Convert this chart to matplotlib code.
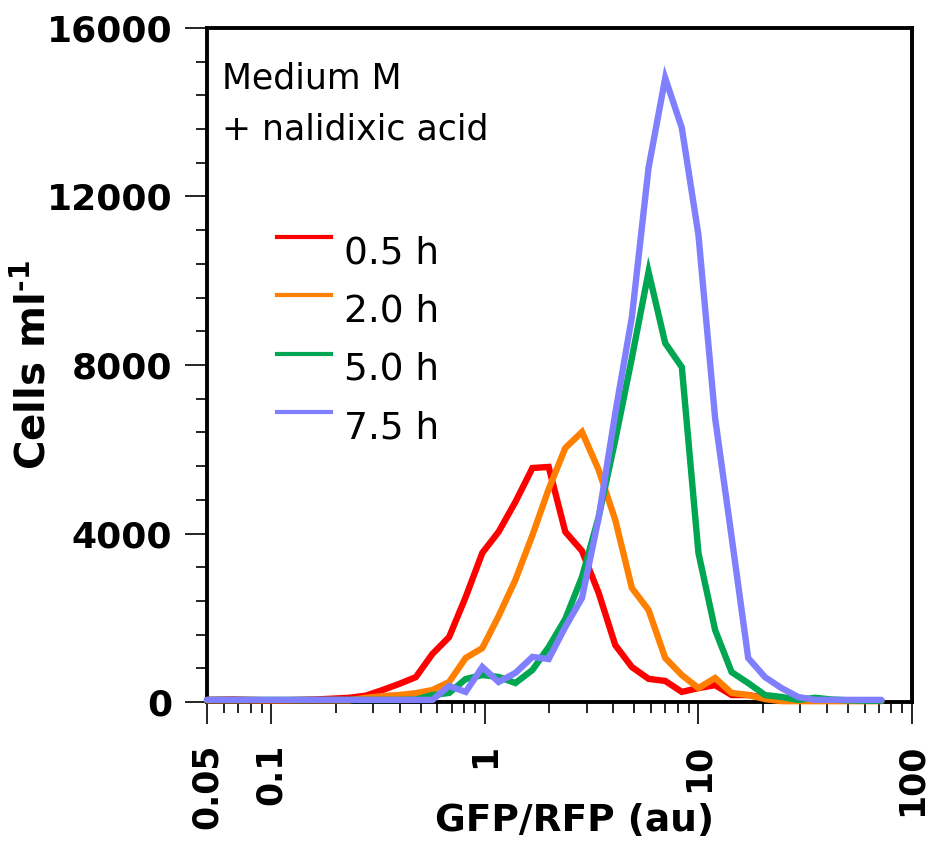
import numpy as np
import matplotlib
matplotlib.use("Agg")
import matplotlib.pyplot as plt
from matplotlib.ticker import FixedLocator, LogLocator, MultipleLocator, NullFormatter

plt.rcParams['font.family'] = ['DejaVu Sans']
plt.rcParams['mathtext.default'] = 'regular'

# GFP/RFP bin centres (au), shared by all time points
ratio = [0.05, 0.066, 0.079, 0.095, 0.113, 0.135, 0.162, 0.194, 0.232, 0.277,
         0.332, 0.397, 0.475, 0.568, 0.680, 0.813, 0.973, 1.16, 1.39, 1.67,
         1.99, 2.38, 2.85, 3.41, 4.08, 4.88, 5.84, 6.99, 8.36, 10.0,
         11.97, 14.3, 17.1, 20.5, 24.5, 29.3, 35.1, 42.0, 50.2, 60.1, 71.9]

# cells per ml in each bin
cells_05h = [50, 60, 50, 40, 40, 50, 60, 80, 100, 150,
             285, 430, 590, 1140, 1540, 2490, 3540, 4040, 4750, 5555,
             5580, 4040, 3585, 2590, 1350, 830, 550, 500, 240, 330,
             400, 165, 165, 95, 50, 30, 30, 30, 30, 30, 30]
cells_20h = [40, 40, 40, 40, 40, 40, 40, 40, 40, 100,
             140, 165, 210, 285, 475, 1045, 1280, 2040, 2900, 3960,
             5055, 6030, 6410, 5510, 4320, 2705, 2185, 1045, 640, 330,
             570, 215, 165, 70, 20, 20, 20, 20, 20, 20, 20]
cells_50h = [50, 50, 50, 50, 50, 50, 50, 50, 50, 50,
             50, 50, 60, 165, 215, 545, 640, 595, 450, 760,
             1305, 1970, 2970, 4390, 6220, 8170, 10210, 8520, 7950, 3540,
             1710, 710, 450, 165, 120, 50, 100, 60, 40, 30, 30]
cells_75h = [50, 50, 50, 50, 50, 50, 50, 50, 50, 50,
             50, 50, 50, 50, 380, 240, 830, 475, 690, 1070,
             1020, 1780, 2470, 4370, 6860, 9140, 12680, 14810, 13630, 11090,
             6740, 3920, 1045, 590, 330, 120, 50, 50, 50, 50, 50]

series = [cells_05h, cells_20h, cells_50h, cells_75h]
labels = ['0.5 h', '2.0 h', '5.0 h', '7.5 h']
colors = ['#FF0000', '#FF8000', '#00A651', '#8080FF']

xticks = [0.05, 0.1, 1, 10, 100]
xticklabels = ['0.05', '0.1', '1', '10', '100']
yticks = [0, 4000, 8000, 12000, 16000]

fig = plt.figure(figsize=(9.37, 8.43), dpi=100)
ax = fig.add_axes([207/937, 1 - 702/843, 705/937, 674/843])

for ys, col in zip(series, colors):
    ax.plot(ratio, ys, color=col, lw=4.6, solid_joinstyle='miter',
            solid_capstyle='round', clip_on=False, zorder=3)

ax.set_xscale('log')
ax.set_xlim(0.05, 100)
ax.set_ylim(0, 16000)

ax.xaxis.set_major_locator(FixedLocator(xticks))
ax.set_xticklabels(xticklabels, rotation=90, fontsize=25, fontweight='bold')
ax.xaxis.set_minor_locator(LogLocator(base=10, subs=np.arange(2, 10)))
ax.xaxis.set_minor_formatter(NullFormatter())

ax.yaxis.set_major_locator(FixedLocator(yticks))
ax.set_yticklabels([str(t) for t in yticks], fontsize=26, fontweight='bold')
ax.yaxis.set_minor_locator(MultipleLocator(800))

ax.tick_params(which='major', direction='out', length=16, width=1.2, color='black')
ax.tick_params(which='minor', direction='out', length=8, width=1.2, color='black')
ax.tick_params(axis='x', which='major', pad=14)
ax.tick_params(axis='y', which='major', pad=9)

for sp in ax.spines.values():
    sp.set_linewidth(2.8)

ax.set_xlabel('GFP/RFP (au)', fontsize=27, fontweight='bold')
ax.xaxis.set_label_coords(0.522, -0.150)
ax.set_ylabel('Cells ml$^{\\mathregular{\u2010}1}$', fontsize=29, fontweight='bold')
ax.yaxis.set_label_coords(-0.216, 0.5)

# growth condition
ax.text(0.0206, 0.9095, 'Medium M', transform=ax.transAxes, fontsize=25, va='baseline')
ax.text(0.0206, 0.834, '+ nalidixic acid', transform=ax.transAxes, fontsize=25, va='baseline')

# hand-drawn legend: short line with label beside it
for i, (lab, col) in enumerate(zip(labels, colors)):
    yl = 0.690 - i * 0.0865
    ax.plot([0.0993, 0.1759], [yl, yl], color=col, lw=3, transform=ax.transAxes)
    ax.text(0.195, yl - 0.039, lab, transform=ax.transAxes, fontsize=27, va='baseline')

fig.savefig('out.png', dpi=100)
